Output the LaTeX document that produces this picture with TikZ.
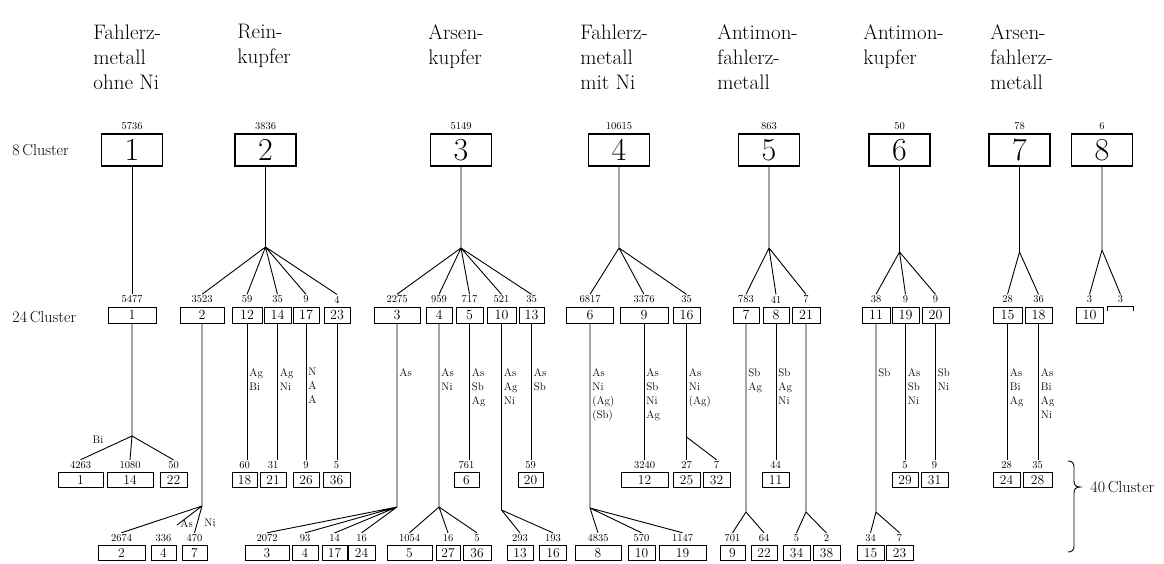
\documentclass[tikz,border=0pt]{standalone}
\usepackage{fontspec}
\usetikzlibrary{positioning}
\begin{document}
\begin{tikzpicture}[x=1pt, y=-1pt, line width=0.9pt,
  bigbox/.style={draw, line width=1.3pt, minimum width=61pt, minimum height=32pt, inner sep=0pt, font=\fontsize{32}{32}\selectfont},
  midbox/.style={draw, line width=1pt, minimum height=16pt, inner sep=0pt, font=\fontsize{14}{14}\selectfont},
  lowbox/.style={draw, line width=1pt, minimum height=15pt, inner sep=0pt, font=\fontsize{13.5}{14}\selectfont},
  every label/.style={font=\fontsize{10.5}{11}\selectfont, inner sep=1pt},
  label distance=2pt,
  elem/.style={anchor=north west, inner sep=0pt, align=left, font=\fontsize{11}{14}\selectfont},
  titletext/.style={anchor=north west, inner sep=0pt, align=left, font=\fontsize{21}{25}\selectfont},
  rowname/.style={anchor=west, inner sep=0pt, font=\fontsize{16}{16}\selectfont}]
\useasboundingbox (0,0) rectangle (1164,563);

% group names
\node[titletext] (t1) at (93,24) {Fahlerz-\\metall\\ohne Ni};
\node[titletext] (t2) at (237,24) {Rein-\\kupfer};
\node[titletext] (t3) at (428,24) {Arsen-\\kupfer};
\node[titletext] (t4) at (580,24) {Fahlerz-\\metall\\mit Ni};
\node[titletext] (t5) at (717,24) {Antimon-\\fahlerz-\\metall};
\node[titletext] (t6) at (863,24) {Antimon-\\kupfer};
\node[titletext] (t7) at (990,24) {Arsen-\\fahlerz-\\metall};

\node[rowname] (r8) at (12,150) {8\,Cluster};
\node[rowname] (r24) at (12,317) {24\,Cluster};
\node[rowname] (r40) at (1090,487) {40\,Cluster};

% 8 clusters
\node[bigbox, label={[name=n-k1]above:5736}] (k1) at (132,150) {1};
\node[bigbox, label={[name=n-k2]above:3836}] (k2) at (265.5,150) {2};
\node[bigbox, label={[name=n-k3]above:5149}] (k3) at (461,150) {3};
\node[bigbox, label={[name=n-k4]above:10615}] (k4) at (619,150) {4};
\node[bigbox, label={[name=n-k5]above:863}] (k5) at (769,150) {5};
\node[bigbox, label={[name=n-k6]above:50}] (k6) at (899.5,150) {6};
\node[bigbox, label={[name=n-k7]above:78}] (k7) at (1019.5,150) {7};
\node[bigbox, label={[name=n-k8]above:6}] (k8) at (1102,150) {8};

% 24 clusters
\node[midbox, minimum width=48pt, label={[name=n-b1]above:5477}] (b1) at (132,315) {1};
\node[midbox, minimum width=44pt, label={[name=n-b2]above:3523}] (b2) at (202,315) {2};
\node[midbox, minimum width=30pt, label={[name=n-b12]above:59}] (b12) at (247,315) {12};
\node[midbox, minimum width=27pt, label={[name=n-b14]above:35}] (b14) at (277.5,315) {14};
\node[midbox, minimum width=26pt, label={[name=n-b17]above:9}] (b17) at (306,315) {17};
\node[midbox, minimum width=26pt, label={[name=n-b23]above:4}] (b23) at (337,315) {23};
\node[midbox, minimum width=46pt, label={[name=n-b3]above:2275}] (b3) at (397,315) {3};
\node[midbox, minimum width=26pt, label={[name=n-b4]above:959}] (b4) at (439,315) {4};
\node[midbox, minimum width=27pt, label={[name=n-b5]above:717}] (b5) at (469.5,315) {5};
\node[midbox, minimum width=29pt, label={[name=n-b10]above:521}] (b10) at (501.5,315) {10};
\node[midbox, minimum width=25pt, label={[name=n-b13]above:35}] (b13) at (531.5,315) {13};
\node[midbox, minimum width=47pt, label={[name=n-b6]above:6817}] (b6) at (590,315) {6};
\node[midbox, minimum width=48pt, label={[name=n-b9]above:3376}] (b9) at (644,315) {9};
\node[midbox, minimum width=27pt, label={[name=n-b16]above:35}] (b16) at (686.5,315) {16};
\node[midbox, minimum width=26pt, label={[name=n-b7]above:783}] (b7) at (746,315) {7};
\node[midbox, minimum width=26pt, label={[name=n-b8]above:41}] (b8) at (776,315) {8};
\node[midbox, minimum width=28pt, label={[name=n-b21]above:7}] (b21) at (806,315) {21};
\node[midbox, minimum width=28pt, label={[name=n-b11]above:38}] (b11) at (876,315) {11};
\node[midbox, minimum width=27pt, label={[name=n-b19]above:9}] (b19) at (905.5,315) {19};
\node[midbox, minimum width=27pt, label={[name=n-b20]above:9}] (b20) at (935.5,315) {20};
\node[midbox, minimum width=29pt, label={[name=n-b15]above:28}] (b15) at (1007.5,315) {15};
\node[midbox, minimum width=27pt, label={[name=n-b18]above:36}] (b18) at (1038.5,315) {18};
\node[midbox, minimum width=27pt, label={[name=n-b10h]above:3}] (b10h) at (1089.5,315) {10};
\node[minimum width=25pt, minimum height=16pt, inner sep=0pt, label={[name=n-open]above:3}] (open) at (1120.5,315) {};
\draw ([yshift=-4pt]open.north west) -- (open.north west) -- (open.north east) -- ([yshift=-4pt]open.north east);

% 40 clusters, upper row
\node[lowbox, minimum width=45pt, label={[name=n-c1]above:4263}] (c1) at (80.5,480) {1};
\node[lowbox, minimum width=46pt, label={[name=n-c14]above:1080}] (c14) at (130,480) {14};
\node[lowbox, minimum width=27pt, label={[name=n-c22]above:50}] (c22) at (173.5,480) {22};
\node[lowbox, minimum width=25pt, label={[name=n-c18]above:60}] (c18) at (244.5,480) {18};
\node[lowbox, minimum width=26pt, label={[name=n-c21]above:31}] (c21) at (273,480) {21};
\node[lowbox, minimum width=26pt, label={[name=n-c26]above:9}] (c26) at (306,480) {26};
\node[lowbox, minimum width=27pt, label={[name=n-c36]above:5}] (c36) at (336.5,480) {36};
\node[lowbox, minimum width=25pt, label={[name=n-c6]above:761}] (c6) at (466.5,480) {6};
\node[lowbox, minimum width=25pt, label={[name=n-c20]above:59}] (c20) at (530.5,480) {20};
\node[lowbox, minimum width=47pt, label={[name=n-c12]above:3240}] (c12) at (644.5,480) {12};
\node[lowbox, minimum width=27pt, label={[name=n-c25]above:27}] (c25) at (686.5,480) {25};
\node[lowbox, minimum width=27pt, label={[name=n-c32]above:7}] (c32) at (716.5,480) {32};
\node[lowbox, minimum width=27pt, label={[name=n-c11]above:44}] (c11) at (775.5,480) {11};
\node[lowbox, minimum width=26pt, label={[name=n-c29]above:5}] (c29) at (905,480) {29};
\node[lowbox, minimum width=27pt, label={[name=n-c31]above:9}] (c31) at (934.5,480) {31};
\node[lowbox, minimum width=27pt, label={[name=n-c24]above:28}] (c24) at (1006.5,480) {24};
\node[lowbox, minimum width=29pt, label={[name=n-c28]above:35}] (c28) at (1037.5,480) {28};

% 40 clusters, lower row
\node[lowbox, minimum width=47pt, label={[name=n-d2]above:2674}] (d2) at (121.5,553) {2};
\node[lowbox, minimum width=25pt, label={[name=n-d4]above:336}] (d4) at (163.5,553) {4};
\node[lowbox, minimum width=25pt, label={[name=n-d7]above:470}] (d7) at (194.5,553) {7};
\node[lowbox, minimum width=44pt, label={[name=n-d3]above:2072}] (d3) at (267,553) {3};
\node[lowbox, minimum width=26pt, label={[name=n-d4b]above:93}] (d4b) at (305,553) {4};
\node[lowbox, minimum width=25pt, label={[name=n-d17]above:14}] (d17) at (334.5,553) {17};
\node[lowbox, minimum width=27pt, label={[name=n-d24]above:16}] (d24) at (361.5,553) {24};
\node[lowbox, minimum width=45pt, label={[name=n-d5]above:1054}] (d5) at (409.5,553) {5};
\node[lowbox, minimum width=24pt, label={[name=n-d27]above:16}] (d27) at (448,553) {27};
\node[lowbox, minimum width=28pt, label={[name=n-d36]above:5}] (d36) at (477,553) {36};
\node[lowbox, minimum width=26pt, label={[name=n-d13]above:293}] (d13) at (520,553) {13};
\node[lowbox, minimum width=27pt, label={[name=n-d16]above:193}] (d16) at (553,553) {16};
\node[lowbox, minimum width=46pt, label={[name=n-d8]above:4835}] (d8) at (598,553) {8};
\node[lowbox, minimum width=27pt, label={[name=n-d10]above:570}] (d10) at (641.5,553) {10};
\node[lowbox, minimum width=47pt, label={[name=n-d19]above:1147}] (d19) at (682.5,553) {19};
\node[lowbox, minimum width=25pt, label={[name=n-d9]above:701}] (d9) at (732.5,553) {9};
\node[lowbox, minimum width=26pt, label={[name=n-d22]above:64}] (d22) at (764,553) {22};
\node[lowbox, minimum width=27pt, label={[name=n-d34]above:5}] (d34) at (796.5,553) {34};
\node[lowbox, minimum width=27pt, label={[name=n-d38]above:2}] (d38) at (826.5,553) {38};
\node[lowbox, minimum width=27pt, label={[name=n-d15]above:34}] (d15) at (870.5,553) {15};
\node[lowbox, minimum width=27pt, label={[name=n-d23]above:7}] (d23) at (899.5,553) {23};

% branch points
\coordinate (p2) at (265.5,247);
\coordinate (p3) at (461,248);
\coordinate (p4) at (619,248);
\coordinate (p5) at (769,248);
\coordinate (p6) at (899.5,252);
\coordinate (p7) at (1019.5,252);
\coordinate (p8) at (1102,250);
\coordinate (q1) at (132,436);
\coordinate (q2) at (202,506);
\coordinate (q3) at (397,507);
\coordinate (q4) at (439,507);
\coordinate (q10) at (501.5,510);
\coordinate (q6) at (590,508);
\coordinate (q16) at (686.5,437);
\coordinate (q7) at (746,512);
\coordinate (q21) at (806,512);
\coordinate (q11) at (876,512);
\coordinate (a4) at (177,525);

% 8 -> 24
\draw (k1.south) -- (n-b1.north);
\draw (k2.south) -- (p2) (p2) -- (n-b2.north) (p2) -- (n-b12.north) (p2) -- (n-b14.north) (p2) -- (n-b17.north) (p2) -- (n-b23.north);
\draw (k3.south) -- (p3) (p3) -- (n-b3.north) (p3) -- (n-b4.north) (p3) -- (n-b5.north) (p3) -- (n-b10.north) (p3) -- (n-b13.north);
\draw (k4.south) -- (p4) (p4) -- (n-b6.north) (p4) -- (n-b9.north) (p4) -- (n-b16.north);
\draw (k5.south) -- (p5) (p5) -- (n-b7.north) (p5) -- (n-b8.north) (p5) -- (n-b21.north);
\draw (k6.south) -- (p6) (p6) -- (n-b11.north) (p6) -- (n-b19.north) (p6) -- (n-b20.north);
\draw (k7.south) -- (p7) (p7) -- (n-b15.north) (p7) -- (n-b18.north);
\draw (k8.south) -- (p8) (p8) -- (n-b10h.north) (p8) -- (n-open.north);

% 24 -> 40
\draw (b1.south) -- (q1) (q1) -- (n-c1.north) (q1) -- (n-c14.north) (q1) -- (n-c22.north);
\draw (b2.south) -- (q2) (q2) -- (n-d2.north) (q2) -- (a4) (q2) -- (n-d7.north);
\draw (b12.south) -- (b12.south |- n-c18.north);
\draw (b14.south) -- (b14.south |- n-c21.north);
\draw (b17.south) -- (b17.south |- n-c26.north);
\draw (b23.south) -- (b23.south |- n-c36.north);
\draw (b3.south) -- (q3) (q3) -- (n-d3.north) (q3) -- (n-d4b.north) (q3) -- (n-d17.north) (q3) -- (n-d24.north);
\draw (b4.south) -- (q4) (q4) -- (n-d5.north) (q4) -- (n-d27.north) (q4) -- (n-d36.north);
\draw (b5.south) -- (b5.south |- n-c6.north);
\draw (b10.south) -- (q10) (q10) -- (n-d13.north) (q10) -- (n-d16.north);
\draw (b13.south) -- (b13.south |- n-c20.north);
\draw (b6.south) -- (q6) (q6) -- (n-d8.north) (q6) -- (n-d10.north) (q6) -- (n-d19.north);
\draw (b9.south) -- (b9.south |- n-c12.north);
\draw (b16.south) -- (q16) (q16) -- (n-c25.north) (q16) -- (n-c32.north);
\draw (b7.south) -- (q7) (q7) -- (n-d9.north) (q7) -- (n-d22.north);
\draw (b8.south) -- (b8.south |- n-c11.north);
\draw (b21.south) -- (q21) (q21) -- (n-d34.north) (q21) -- (n-d38.north);
\draw (b11.south) -- (q11) (q11) -- (n-d15.north) (q11) -- (n-d23.north);
\draw (b19.south) -- (b19.south |- n-c29.north);
\draw (b20.south) -- (b20.south |- n-c31.north);
\draw (b15.south) -- (b15.south |- n-c24.north);
\draw (b18.south) -- (b18.south |- n-c28.north);

% element labels
\node[elem] (e12) at (249,368) {Ag\\Bi};
\node[elem] (e14) at (279.5,368) {Ag\\Ni};
\node[elem] (e17) at (308,368) {N\\A\\A};
\node[elem] (e3) at (399,368) {As};
\node[elem] (e4) at (441,368) {As\\Ni};
\node[elem] (e5) at (471.5,368) {As\\Sb\\Ag};
\node[elem] (e10) at (503.5,368) {As\\Ag\\Ni};
\node[elem] (e13) at (533.5,368) {As\\Sb};
\node[elem] (e6) at (592,368) {As\\Ni\\(Ag)\\(Sb)};
\node[elem] (e9) at (646,368) {As\\Sb\\Ni\\Ag};
\node[elem] (e16) at (688.5,368) {As\\Ni\\(Ag)};
\node[elem] (e7) at (748,368) {Sb\\Ag};
\node[elem] (e8) at (778,368) {Sb\\Ag\\Ni};
\node[elem] (e11) at (878,368) {Sb};
\node[elem] (e19) at (907.5,368) {As\\Sb\\Ni};
\node[elem] (e20) at (937.5,368) {Sb\\Ni};
\node[elem] (e15) at (1009.5,368) {As\\Bi\\Ag};
\node[elem] (e18) at (1040.5,368) {As\\Bi\\Ag\\Ni};
\node[elem, anchor=center] (e1) at (98,440) {Bi};
\node[elem, anchor=west] (e2a) at (180,524) {As};
\node[elem, anchor=west] (e2b) at (204,523) {Ni};

% brace
\draw (1068,461) .. controls (1072,461) and (1074,463) .. (1074,467) -- (1074,481)
  .. controls (1074,485) and (1076,487) .. (1080,487)
  .. controls (1076,487) and (1074,489) .. (1074,493) -- (1074,546)
  .. controls (1074,550) and (1072,552) .. (1068,552);
\end{tikzpicture}
\end{document}
